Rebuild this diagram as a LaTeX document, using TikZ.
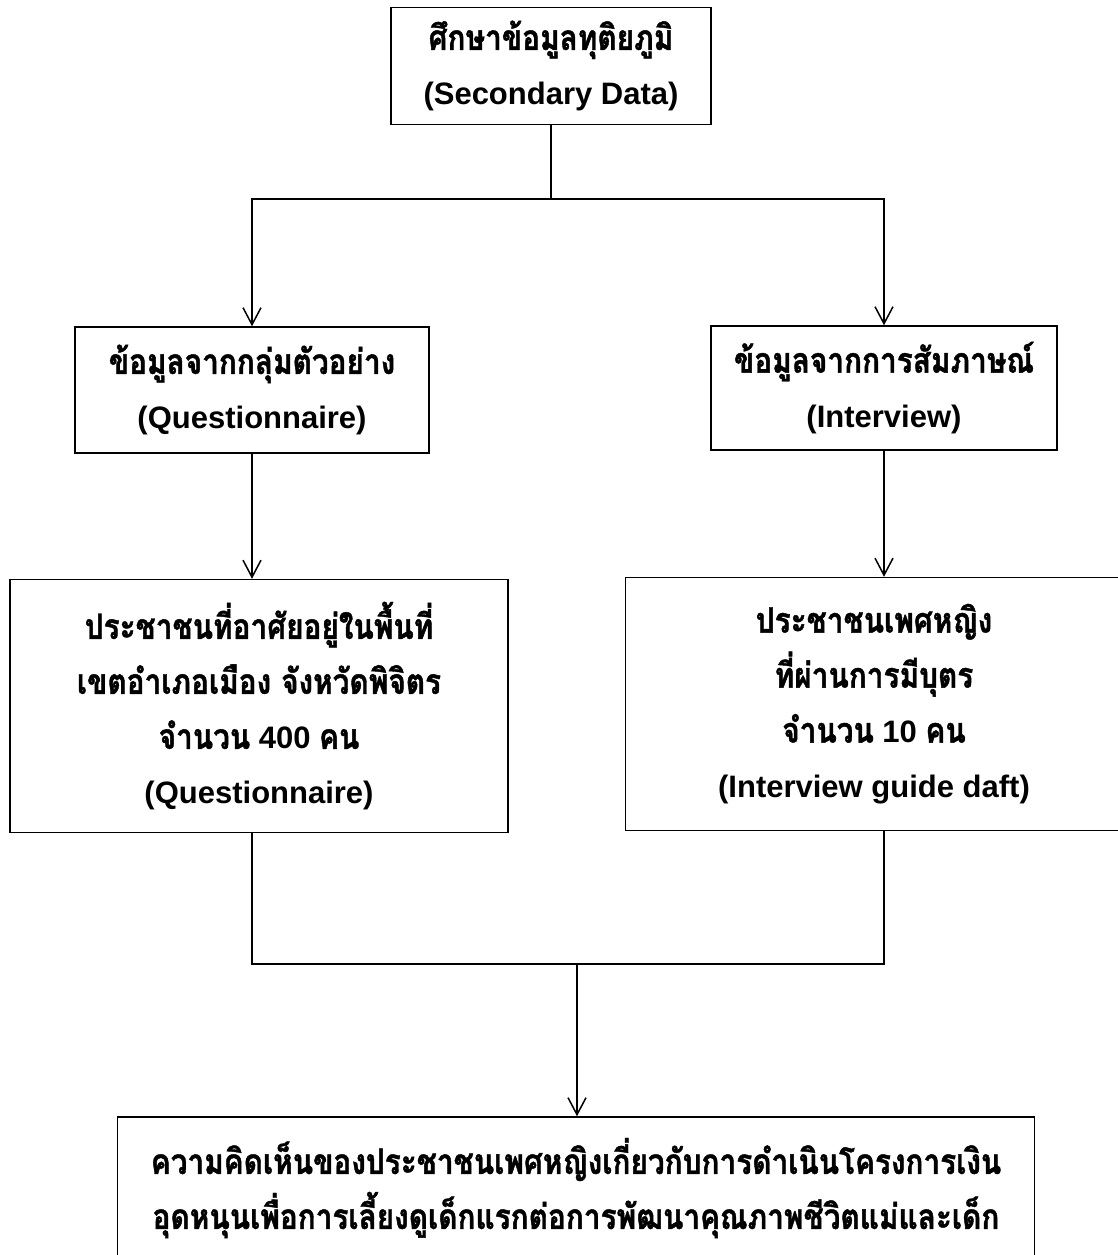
\documentclass[tikz,border=0pt]{standalone}
\usepackage{fontspec}
\setmainfont{Liberation Sans}
\newfontfamily\thaifont[Script=Thai, FakeStretch=0.85,
  BoldFeatures={FakeBold=1.2}]{Loma}
\usetikzlibrary{arrows.meta,positioning}
\newcommand{\thtxt}[1]{{\thaifont\bfseries\fontsize{35}{55}\selectfont #1}}
\tikzset{
  box/.style={draw, line width=1.5pt, inner sep=0pt, align=center,
    font=\bfseries\fontsize{31}{55}\selectfont},
  link/.style={line width=1.5pt},
  flow/.style={link, -{Straight Barb[length=17pt,width=18pt]}},
}

\begin{document}
\begin{tikzpicture}[x=1pt, y=-1pt]
  \useasboundingbox[fill=white] (0,0) rectangle (1118,1255);
  \node [box, minimum width=320pt, minimum height=117pt] (sec) at (551,66)
    {\thtxt{ศึกษาข้อมูลทุติยภูมิ}\\(Secondary Data)};
  \node [box, minimum width=354pt, minimum height=126pt] (qmid) at (252,390)
    {\thtxt{ข้อมูลจากกลุ่มตัวอย่าง}\\(Questionnaire)};
  \node [box, minimum width=346pt, minimum height=124pt] (imid) at (884,388)
    {\thtxt{ข้อมูลจากการสัมภาษณ์}\\(Interview)};
  \node [box, minimum width=498pt, minimum height=253pt] (qlow) at (259,706)
    {\thtxt{ประชาชนที่อาศัยอยู่ในพื้นที่}\\\thtxt{เขตอำเภอเมือง จังหวัดพิจิตร}\\
     \thtxt{จำนวน} 400 \thtxt{คน}\\(Questionnaire)};
  \node [box, minimum width=497pt, minimum height=253pt] (ilow) at (874,704)
    {\thtxt{ประชาชนเพศหญิง}\\\thtxt{ที่ผ่านการมีบุตร}\\
     \thtxt{จำนวน} 10 \thtxt{คน}\\(Interview guide daft)};
  \node [box, minimum width=917pt, minimum height=142pt] (res) at (576,1188)
    {\thtxt{ความคิดเห็นของประชาชนเพศหญิงเกี่ยวกับการดำเนินโครงการเงิน}\\
     \thtxt{อุดหนุนเพื่อการเลี้ยงดูเด็กแรกต่อการพัฒนาคุณภาพชีวิตแม่และเด็ก}};
  \coordinate (split) at (551,199);
  \coordinate (merge) at (577,964);
  \draw [link] (sec) -- (split);
  \draw [flow] (split) -| (qmid);
  \draw [flow] (split) -| (imid);
  \draw [flow] (qmid) -- (qmid |- qlow.north);
  \draw [flow] (imid) -- (imid |- ilow.north);
  \draw [link] (qmid |- qlow.south) |- (merge) -| (imid |- ilow.south);
  \draw [flow] (merge) -- (merge |- res.north);
\end{tikzpicture}
\end{document}
